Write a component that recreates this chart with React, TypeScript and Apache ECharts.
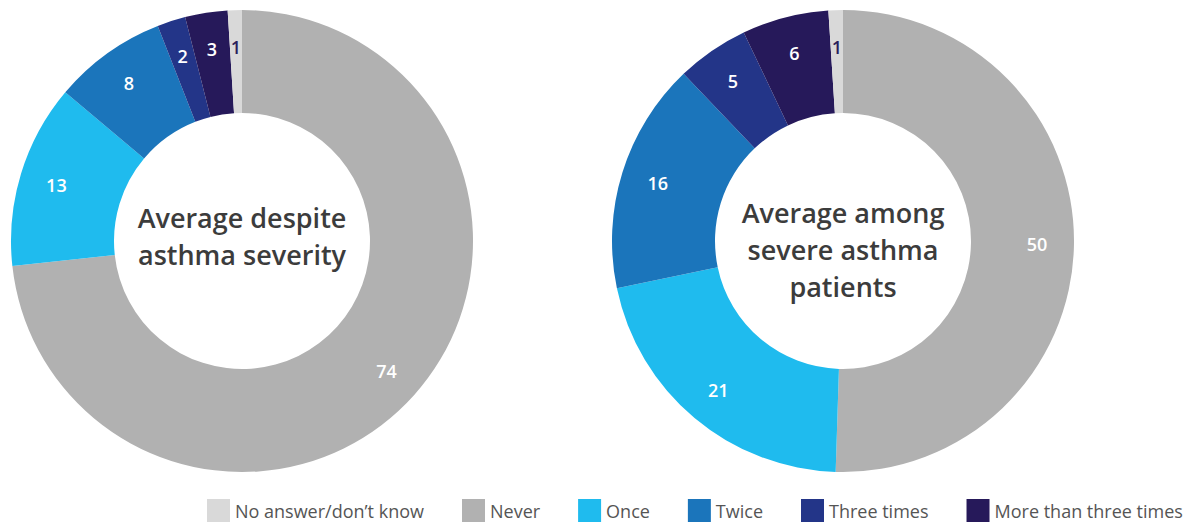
import React, { useEffect, useRef } from "react";
import * as echarts from "echarts";

const categories = ["Never", "Once", "Twice", "Three times", "More than three times", "No answer/don’t know"];
const legendOrder = ["No answer/don’t know", "Never", "Once", "Twice", "Three times", "More than three times"];
const colors = ["#b1b1b1", "#1fbbee", "#1b75bb", "#233588", "#26195a", "#d9d9d9"];
const labelColors = ["#ffffff", "#ffffff", "#ffffff", "#ffffff", "#ffffff", "#2a1f5c"];
const leftValues = [74, 13, 8, 2, 3, 1];
const rightValues = [50, 21, 16, 5, 6, 1];
const leftTitle = "Average despite\nasthma severity";
const rightTitle = "Average among\nsevere asthma\npatients";

const FONT = "'Open Sans', 'Noto Sans', sans-serif";

function buildSeries(values: number[], center: [number, number]) {
  const data = values.map((v, i) => ({
    name: categories[i],
    value: v,
    itemStyle: { color: colors[i] },
  }));
  const labelData = values.map((v, i) => ({
    name: categories[i],
    value: v,
    itemStyle: { color: "rgba(0,0,0,0)" },
    label: { color: labelColors[i] },
  }));
  return [
    {
      type: "pie",
      center,
      radius: [128, 231],
      startAngle: 90,
      clockwise: true,
      silent: true,
      label: { show: false },
      labelLine: { show: false },
      data,
    },
    {
      type: "pie",
      center,
      radius: [152, 230],
      startAngle: 90,
      clockwise: true,
      silent: true,
      legendHoverLink: false,
      label: {
        show: true,
        position: "inside",
        formatter: "{c}",
        fontFamily: FONT,
        fontSize: 18,
        fontWeight: 600,
      },
      labelLine: { show: false },
      data: labelData,
    },
  ];
}

export default function App() {
  const ref = useRef<HTMLDivElement>(null);
  useEffect(() => {
    document.body.style.margin = "0";
    const chart = echarts.init(ref.current!, undefined, { renderer: "svg" });
    chart.setOption({
      animation: false,
      legend: {
        data: legendOrder,
        left: 207,
        top: 499,
        width: 985,
        itemWidth: 23,
        itemHeight: 23,
        itemGap: 38,
        icon: "rect",
        selectedMode: false,
        textStyle: { fontFamily: FONT, fontSize: 18, color: "#555555", padding: [0, 0, 0, 0] },
        padding: 0,
      },
      graphic: [
        {
          type: "text",
          x: 242,
          y: 236,
          style: {
            text: leftTitle,
            textAlign: "center",
            textVerticalAlign: "middle",
            fontFamily: FONT,
            fontSize: 27,
            fontWeight: 600,
            lineHeight: 37,
            fill: "#3c3c3c",
          },
        },
        {
          type: "text",
          x: 843,
          y: 249,
          style: {
            text: rightTitle,
            textAlign: "center",
            textVerticalAlign: "middle",
            fontFamily: FONT,
            fontSize: 27,
            fontWeight: 600,
            lineHeight: 37,
            fill: "#3c3c3c",
          },
        },
      ],
      series: [...buildSeries(leftValues, [242, 241]), ...buildSeries(rightValues, [843, 241])],
    });
    return () => chart.dispose();
  }, []);
  return <div ref={ref} style={{ width: 1192, height: 523 }} />;
}
